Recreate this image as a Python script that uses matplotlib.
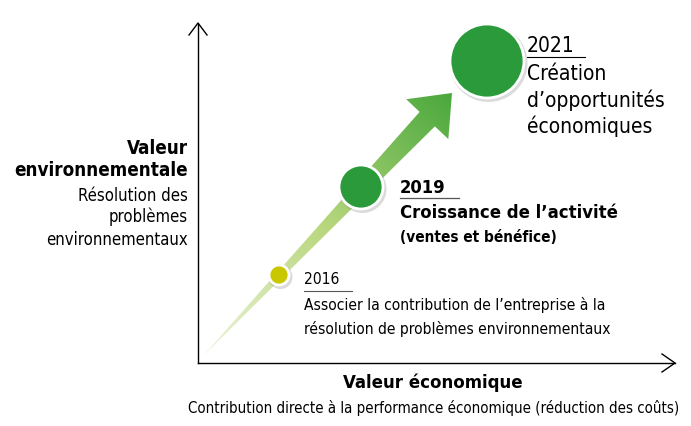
import numpy as np
import matplotlib
matplotlib.use('Agg')
import matplotlib.pyplot as plt
from matplotlib.patches import Circle, Polygon
from matplotlib.colors import LinearSegmentedColormap

plt.rcParams['font.family'] = ['DejaVu Sans']
plt.rcParams['font.stretch'] = 'condensed'

# stages on the (economic value, environmental value) plane
years = ['2016', '2019', '2021']
econ_value = [81, 163, 289]
env_value = [88, 176, 302]
bubble_radius = [10, 22, 37]
bubble_colors = ['#c9c800', '#2a9a3a', '#2a9a3a']

fig = plt.figure(figsize=(6.91, 4.27), dpi=100)
ax = fig.add_axes([0, 0, 1, 1])
ax.set_xlim(-198, 493)
ax.set_ylim(-63, 364)
ax.set_aspect('equal')
ax.axis('off')

# axes with open arrow heads
ax.plot([0, 0], [0, 339], color='black', lw=1)
ax.plot([0, 477], [0, 0], color='black', lw=1)
ax.plot([-9, 0, 9], [328, 340, 328], color='black', lw=1)
ax.plot([464, 477, 464], [9, 0, -9], color='black', lw=1)

# gradient arrow
tail = np.array([5.0, 7.0])
tip = np.array([254.0, 270.0])
u = (tip - tail) / np.linalg.norm(tip - tail)
n = np.array([-u[1], u[0]])
head_len, head_w, shaft_w = 36, 29, 10.5
base = tip - u * head_len
pts = [tail, base - n * shaft_w, base - n * head_w, tip,
       base + n * head_w, base + n * shaft_w]
arrow = Polygon(pts, closed=True, facecolor='none', edgecolor='none')
ax.add_patch(arrow)
cmap = LinearSegmentedColormap.from_list('g', ['#eef5dc', '#b9d77e', '#4aa83c'])
xx, yy = np.meshgrid(np.linspace(0, 270, 300), np.linspace(0, 290, 300))
grad = (xx * u[0] + yy * u[1]) / 370
img = ax.imshow(grad, extent=[0, 270, 0, 290], origin='lower', cmap=cmap,
                vmin=0, vmax=1, zorder=2, aspect='auto')
img.set_clip_path(arrow)

# bubbles
for x, y, r, c in zip(econ_value, env_value, bubble_radius, bubble_colors):
    ax.add_patch(Circle((x + 1.5, y - 2), r + 2, color='#999999', alpha=0.35, zorder=3, lw=0))
    ax.add_patch(Circle((x, y), r, facecolor=c, edgecolor='white', lw=2, zorder=4))

# labels
ax.text(329, 318, years[2], fontsize=15, va='center', ha='left')
ax.plot([329, 387], [306, 306], color='black', lw=0.8)
ax.text(329, 290, 'Création', fontsize=15, va='center')
ax.text(329, 264, 'd\u2019opportunités', fontsize=15, va='center')
ax.text(329, 238, 'économiques', fontsize=15, va='center')

ax.text(202, 176, years[1], fontsize=13.2, fontweight='bold', va='center')
ax.plot([202, 261], [165, 165], color='#555555', lw=0.9)
ax.text(202, 151, 'Croissance de l\u2019activité', fontsize=13.2, fontweight='bold', va='center')
ax.text(202, 126, '(ventes et bénéfice)', fontsize=11, fontweight='bold', va='center')

ax.text(106, 84, years[0], fontsize=11.2, va='center')
ax.plot([106, 154], [72, 72], color='#555555', lw=0.8)
ax.text(106, 59, 'Associer la contribution de l\u2019entreprise à la', fontsize=11.2, va='center')
ax.text(106, 35, 'résolution de problèmes environnementaux', fontsize=11.2, va='center')

ax.text(-10, 216, 'Valeur', fontsize=13.5, fontweight='bold', ha='right', va='center')
ax.text(-10, 194, 'environnementale', fontsize=13.5, fontweight='bold', ha='right', va='center')
ax.text(-10, 168, 'Résolution des', fontsize=12, ha='right', va='center')
ax.text(-10, 147, 'problèmes', fontsize=12, ha='right', va='center')
ax.text(-10, 124, 'environnementaux', fontsize=12, ha='right', va='center')

ax.text(235, -19, 'Valeur économique', fontsize=13.3, fontweight='bold', ha='center', va='center')
ax.text(236, -44, 'Contribution directe à la performance économique (réduction des coûts)',
        fontsize=10.8, ha='center', va='center')

fig.savefig('out.png', dpi=100)
